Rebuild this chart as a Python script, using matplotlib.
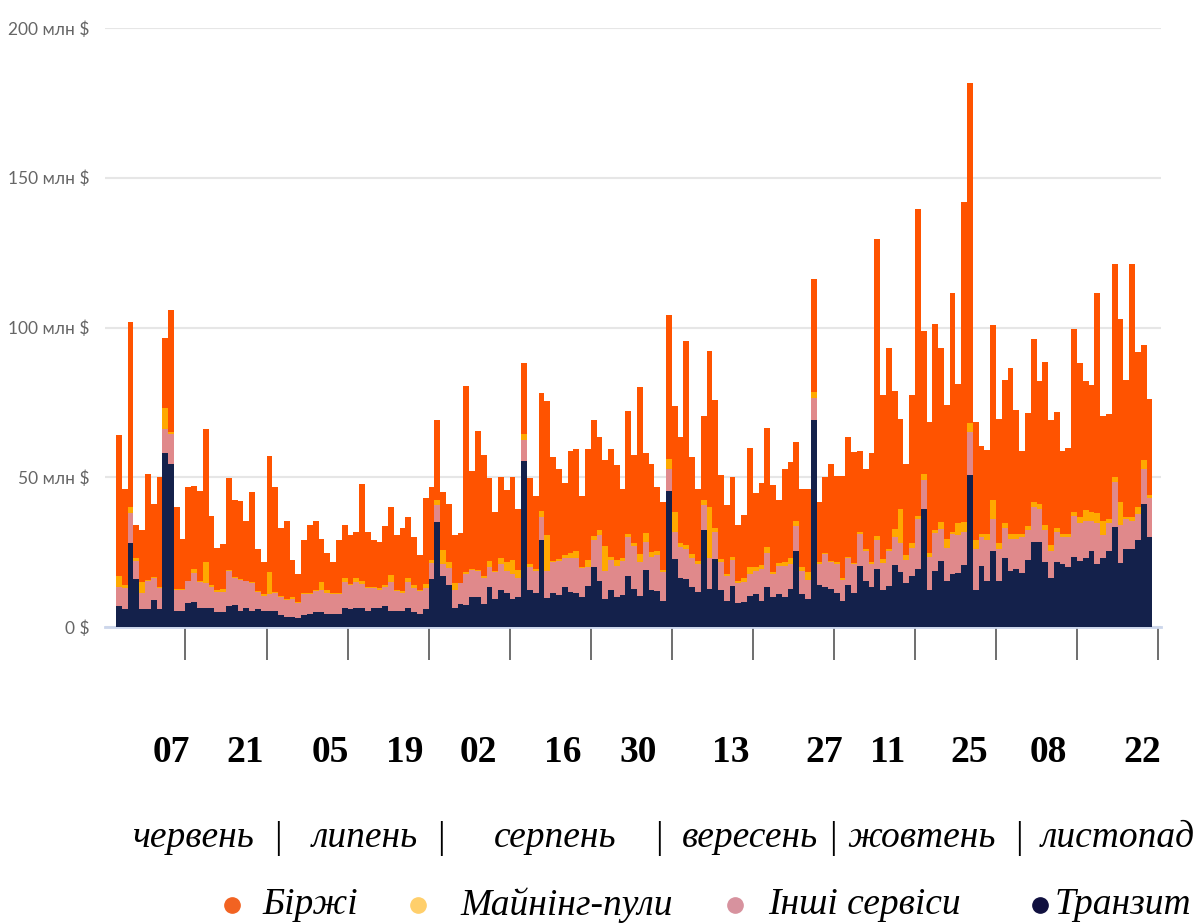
import numpy as np
import matplotlib.pyplot as plt
from matplotlib.lines import Line2D

# daily values, млн $
transit = [6.9, 6.0, 28, 16, 6, 6, 9, 6, 58, 54.4,
           5.5, 5.5, 8, 8.5, 6.5, 6.5, 6.5, 5, 5, 7,
           7.5, 5.5, 6.5, 5.5, 6, 5.5, 5.5, 5.5, 4, 3.5,
           3.5, 3, 4, 4.5, 5, 5, 4.5, 4.5, 4.5, 6.5,
           6, 6.5, 6.5, 5.5, 6.5, 6.5, 7, 5.5, 5.5, 5.5,
           6.5, 5, 4.5, 6, 16, 35, 17, 14, 6.3, 7.7,
           7.5, 9.9, 9.9, 7.7, 13.4, 9.3, 12.2, 11.3, 9.3, 10.1,
           55.3, 12.2, 11.3, 28.9, 9.6, 11.3, 10.8, 13.4, 11.6, 11.3,
           9.9, 13.7, 20, 15.2, 9.3, 12.5, 9.9, 10.8, 17, 12.8,
           10.5, 19.1, 12.5, 12, 8.7, 45.5, 22.7, 16.4, 16, 13.4,
           11.6, 32.4, 12.8, 22.7, 12.2, 8.7, 13.7, 8.1, 8.5, 10.5,
           11, 8.7, 13.4, 9.9, 11, 9.9, 12.8, 25.3, 11, 9.3,
           69, 14, 13.2, 12.8, 11.3, 8.7, 14, 11.3, 20.5, 15.2,
           13.4, 19.4, 12.2, 13.7, 20.8, 18.2, 14.6, 17, 19.4, 39.5,
           12.2, 18.8, 22, 15.5, 17.6, 17.9, 20.8, 50.8, 12.2, 20.5,
           15.2, 25.3, 15.2, 22.9, 18.8, 19.4, 17.9, 22.3, 28.3, 28.3,
           21.7, 16.4, 21.7, 21.1, 20, 23.5, 22, 22.9, 25.3, 21.1,
           22.9, 25.3, 33.4, 21.5, 26.2, 26.2, 28.9, 41, 30]

others = [6.5, 7, 10, 6, 5.5, 9.5, 7.4, 7, 8, 10.1,
          6.7, 6.7, 7.2, 9.5, 8.5, 8.1, 6.9, 6.6, 6.8, 11.8,
          8.9, 10.3, 8.7, 9.3, 5.6, 5, 5.5, 5.8, 6, 5.5,
          6, 5, 7, 6.5, 7, 7.5, 7, 6.5, 6.5, 8.5,
          8, 8.5, 8, 7.5, 6.5, 6, 6.5, 9.5, 6.5, 6,
          8.5, 8, 7.5, 7, 5.5, 5.7, 4, 5.7, 5.9, 6.9,
          10.1, 9.2, 8.9, 8.7, 6.6, 8.9, 8.9, 7.5, 8.3, 6.3,
          7.1, 7.8, 7.5, 7.7, 9.2, 10.4, 11.2, 9.5, 11.6, 11.6,
          9.7, 6.3, 8.9, 15.4, 9.5, 9.8, 10.6, 11.2, 13, 14.3,
          11.2, 9.2, 11, 12.1, 9.5, 7.4, 9.1, 10.3, 10.2, 9.5,
          9.5, 8.3, 10.1, 9.1, 9.5, 8.3, 8.6, 6.7, 6.5, 7.1,
          7.8, 10.7, 11.3, 7.7, 9.3, 10.6, 8.3, 8.5, 7.8, 6.5,
          7.6, 7.1, 11.1, 8.9, 9.8, 7.1, 8.9, 9.8, 10.7, 10.1,
          7.7, 9.5, 9.3, 11.6, 9.2, 9.7, 7.7, 9.5, 16.8, 9.5,
          11.3, 12.7, 10.7, 11, 13.6, 12.7, 11, 14.3, 13.7, 9.5,
          13.7, 10.9, 10.7, 10.1, 10.7, 10.1, 12.1, 10.1, 11.8, 11.2,
          10.7, 9.1, 10.1, 8.9, 10, 13.7, 12.8, 12.5, 10.1, 13.7,
          7.7, 9.5, 15.1, 12.7, 9.8, 9.2, 8.9, 11.8, 13]

mining = [3.6, 1, 2, 1, 3.5, 0.3, 0.3, 0.4, 7, 0.5,
          0.4, 0.4, 0.3, 1.4, 0.5, 7.1, 0.6, 0.6, 0.8, 0.2,
          0.2, 0.2, 0.2, 0.2, 0.3, 0.5, 7.2, 0.3, 0.5, 0.5,
          0.5, 0.5, 0.5, 0.5, 0.5, 2.5, 1, 0.5, 0.5, 1.5,
          0.5, 1.5, 1, 0.5, 0.5, 0.5, 0.5, 2.5, 0.5, 0.5,
          1.5, 1, 0.5, 1.5, 1, 1.7, 4.7, 2, 2.4, 0.2,
          0.6, 0.3, 0.2, 0.6, 2, 0.6, 2.1, 2.9, 4.7, 2.7,
          2.1, 1.1, 0.6, 2, 11.8, 0.3, 0.7, 1.2, 1.5, 2.6,
          0.4, 2.3, 1.4, 1.8, 8.3, 1.2, 1.8, 1, 1.2, 0.9,
          2.8, 3.2, 1.5, 1.4, 0.8, 3.1, 6.7, 1.3, 1.3, 1.6,
          0.9, 1.8, 17.2, 1.2, 1, 0.6, 1.2, 0.7, 1.5, 2.4,
          1.2, 1.4, 2, 0.6, 1.2, 1.2, 1.8, 1.6, 1.2, 2.6,
          1.9, 0.6, 0.4, 0.3, 0.6, 0.6, 0.6, 0.4, 0.6, 0.6,
          0.6, 1.4, 1.2, 0.9, 2.7, 11.4, 1.8, 1.4, 0.7, 2.2,
          1.2, 0.9, 2.3, 3, 0.6, 4.2, 3.2, 2.9, 3, 1.2,
          2.1, 6.3, 2, 1.8, 1.7, 1.5, 0.9, 1.4, 1.8, 1.5,
          1.8, 1.9, 1.2, 1, 0.9, 1.2, 1.8, 3.6, 3, 3.3,
          4.8, 1.2, 1.5, 7.7, 0.6, 1.2, 2.3, 3, 1]

exchanges = [47, 32, 62, 11, 17.4, 35.2, 24.3, 36.6, 23.5, 41,
             27.4, 16.9, 31.2, 27.6, 30, 44.3, 23, 14.3, 15.1, 30.6,
             25.9, 26, 20, 30, 14.1, 10.7, 38.8, 35.1, 22.5, 25.9,
             12.3, 9.1, 17.4, 22.7, 22.9, 14.5, 12.2, 10.2, 17.4, 17.7,
             16.1, 15.3, 32.4, 18.3, 15.4, 15.3, 19.6, 22.6, 18.1, 21,
             20.1, 16, 11.6, 28.5, 24.2, 26.8, 19.3, 19.3, 16.1, 16.7,
             62.3, 32.6, 46.3, 40.4, 27.6, 19.6, 26.8, 24, 27.7, 20.4,
             23.7, 28.5, 24.3, 39.5, 44.8, 34.8, 30.2, 24, 34.1, 34,
             23.7, 37.2, 38.7, 31.1, 28.5, 36, 31.9, 23, 41, 29.4,
             55.5, 26.5, 29.4, 21.2, 22.9, 48.3, 35.3, 35.5, 67.9, 32.3,
             24.1, 27.9, 51.9, 42.8, 28.1, 23.1, 26.7, 18.7, 20.9, 39.7,
             24.9, 27.3, 39.6, 29.1, 21, 30.9, 32.1, 26.5, 26.1, 27.7,
             37.7, 20.2, 25.3, 32.4, 28.8, 34.1, 39.8, 36.8, 26.8, 27,
             36.3, 99.3, 54.6, 67, 46, 30.2, 30.3, 49.7, 102.6, 47.7,
             43.9, 68.9, 58.2, 44.5, 79.6, 46.3, 106.9, 113.8, 39.4, 29.3,
             28.1, 58.2, 41.6, 47.7, 55.3, 41.6, 27.7, 37.8, 54.4, 41.3,
             54.3, 41.6, 38.9, 27.8, 28.8, 61.1, 51.4, 43.3, 42.5, 73.3,
             35, 35, 71.3, 60.8, 45.9, 84.7, 51.7, 38.2, 32.1]

day_labels = ['07', '21', '05', '19', '02', '16', '30', '13', '27', '11', '25', '08', '22']
months = ['червень', 'липень', 'серпень', 'вересень', 'жовтень', 'листопад']
series_names = ['Біржі', 'Майнінг-пули', 'Інші сервіси', 'Транзит']
y_ticks = [0, 50, 100, 150, 200]
y_labels = ['0 $', '50 млн $', '100 млн $', '150 млн $', '200 млн $']

colors = {'Транзит': '#14214b', 'Інші сервіси': '#e0898b',
          'Майнінг-пули': '#ffa900', 'Біржі': '#ff5300'}
dot_colors = ['#f26322', '#ffcf6b', '#d7929e', '#10103f']

W, H = 1197, 923
fig = plt.figure(figsize=(W / 100, H / 100), dpi=100)
ax = fig.add_axes([105 / W, 1 - 627 / H, (1161 - 105) / W, (627 - 28) / H])

x = np.arange(len(transit))
bottom = np.zeros(len(x))
for name, vals in [('Транзит', transit), ('Інші сервіси', others),
                   ('Майнінг-пули', mining), ('Біржі', exchanges)]:
    vals = np.array(vals, dtype=float)
    ax.bar(x, vals, bottom=bottom, width=1.0, color=colors[name], linewidth=0, zorder=3)
    bottom += vals

ax.set_xlim(-2.4, 180.0)
ax.set_ylim(0, 200)
ax.set_yticks(y_ticks)
ax.set_yticklabels(y_labels, family='Lato', color='#666666', fontsize=12.5)
ax.tick_params(axis='y', length=0, pad=11)
ax.yaxis.grid(True, color='#e6e6e6', linewidth=1.5, zorder=0)
ax.set_axisbelow(True)

ax.set_xticks(11.5 + 14 * np.arange(len(day_labels)))
ax.set_xticklabels([])
ax.tick_params(axis='x', length=24, width=1.2, color='#555555', direction='out')

for s in ['top', 'right', 'left']:
    ax.spines[s].set_visible(False)
ax.spines['bottom'].set_color('#ccd6eb')
ax.spines['bottom'].set_linewidth(2)

serif = 'Liberation Serif'
fs = 27

# day numbers under the ticks
day_x = [171, 245, 330, 405, 478, 563, 638, 731, 824, 888, 969, 1048, 1142]
for lbl, px in zip(day_labels, day_x):
    fig.text(px / W, 1 - 752 / H, lbl, family=serif, weight='bold', fontsize=fs,
             ha='center', va='center')

# month row
month_x = [194, 365, 555, 750, 921, 1118]
sep_x = [277, 440, 658, 832, 1018]
for m, px in zip(months, month_x):
    fig.text(px / W, 1 - 838 / H, m, family=serif, style='italic', fontsize=fs,
             ha='center', va='center')
for px in sep_x:
    fig.text(px / W, 1 - 838 / H, '|', family=serif, style='italic', fontsize=fs,
             ha='center', va='center')

# legend
dot_x = [232, 418, 735, 1040]
text_x = [262, 460, 768, 1055]
for name, c, dx, tx in zip(series_names, dot_colors, dot_x, text_x):
    fig.add_artist(Line2D([dx / W], [1 - 905 / H], marker='o', markersize=11,
                          color=c, linestyle='none', transform=fig.transFigure))
    fig.text(tx / W, 1 - 905 / H, name, family=serif, style='italic', fontsize=fs,
             ha='left', va='center')

fig.savefig('out.png', dpi=100)
